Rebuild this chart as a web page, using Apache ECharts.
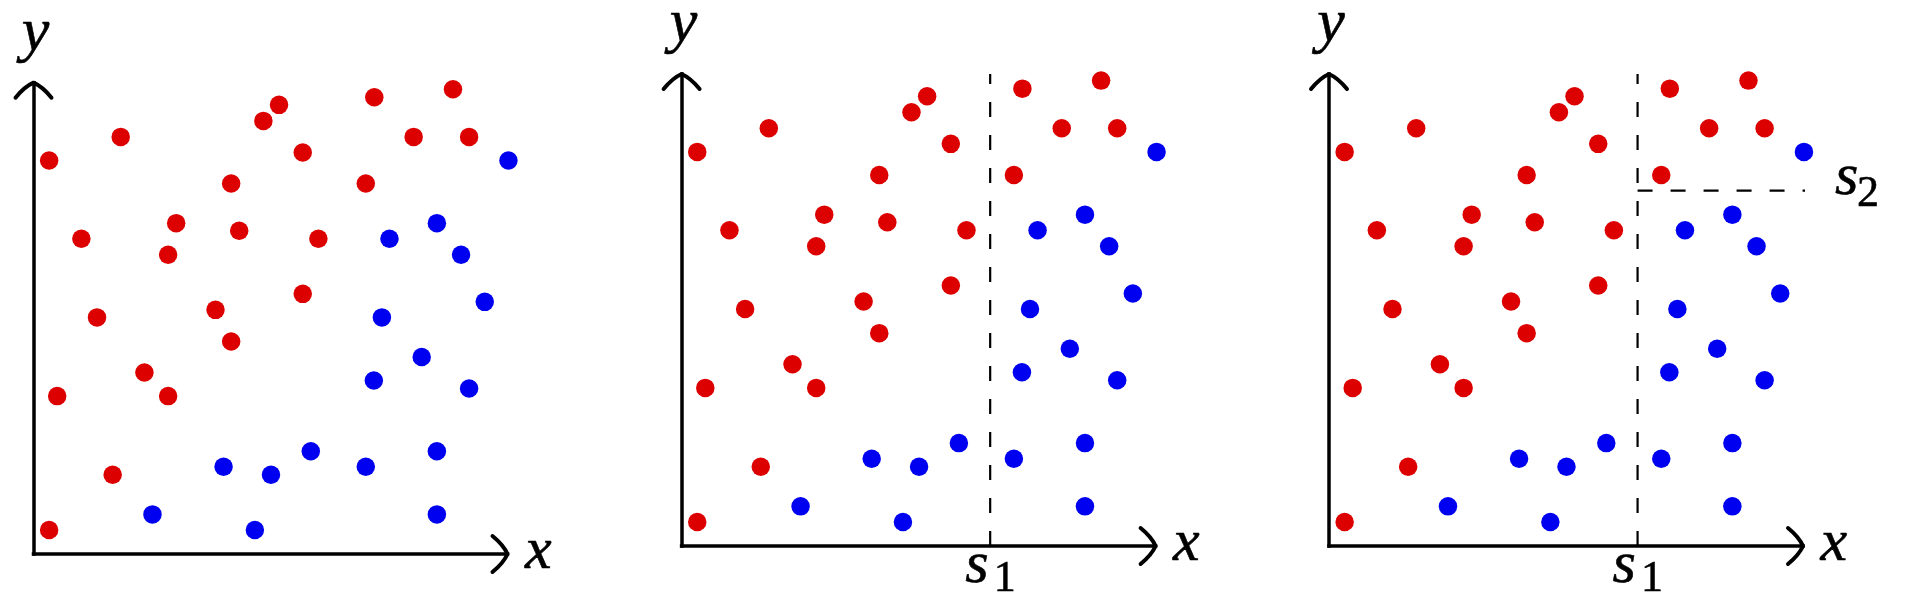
<!DOCTYPE html>
<html><head><meta charset="utf-8">
<script src="https://cdn.jsdelivr.net/npm/echarts@6/dist/echarts.min.js"></script>
<style>html,body{margin:0;padding:0;background:#fff}#c{width:1927px;height:612px}</style>
</head><body><div id="c"></div>
<script>
// ---- data (unitless feature space, 0..100 on both axes) ----
const redX  = [3.3, 18.4, 51.8, 48.5, 71.9, 88.5, 80.2, 91.9, 56.8, 41.7, 70.1, 30.1, 10.1, 43.4, 60.1, 28.4, 56.8, 13.4, 38.4, 41.7, 23.4, 5.0, 28.4, 16.7, 3.3];
const redY  = [83.5, 88.5, 95.3, 91.9, 96.9, 98.6, 88.5, 88.5, 85.2, 78.6, 78.6, 70.2, 66.9, 68.6, 66.9, 63.5, 55.2, 50.2, 51.8, 45.1, 38.5, 33.5, 33.5, 16.8, 5.1];
const blueX = [100.2, 85.1, 75.1, 90.2, 95.2, 73.5, 81.9, 71.8, 91.9, 58.5, 40.1, 50.1, 70.1, 85.1, 25.1, 46.7, 85.1];
const blueY = [83.5, 70.2, 66.9, 63.5, 53.5, 50.2, 41.8, 36.8, 35.1, 21.8, 18.5, 16.8, 18.5, 21.8, 8.4, 5.1, 8.4];
const X_MAX = 100, Y_MAX = 100;
const S1 = 65.1;          // first split (x)
const S2 = 75.3;          // second split (y), right of S1
const S2_END = 103.8;     // where the s2 guide ends
const axisNames = ['x', 'y'];
const splitNames = [['s', '1'], ['s', '2']];

const RED = '#dd0000', BLUE = '#0000f0';
const FONT = 'Liberation Serif';
const redPts = redX.map((v, i) => [v, redY[i]]);
const bluePts = blueX.map((v, i) => [v, blueY[i]]);

const grids = [
  {left: 33.5, top: 82.7, width: 474, height: 471.3},
  {left: 681.6, top: 74, width: 474, height: 472},
  {left: 1329, top: 74, width: 474, height: 472}
];

const axisLineStyle = {show: true, onZero: false, lineStyle: {color: '#000', width: 3.5, cap: 'square'}};
const xAxes = grids.map((g, i) => ({gridIndex: i, type: 'value', min: 0, max: X_MAX,
  axisLine: axisLineStyle, axisTick: {show: false}, axisLabel: {show: false}, splitLine: {show: false}}));
const yAxes = grids.map((g, i) => ({gridIndex: i, type: 'value', min: 0, max: Y_MAX,
  axisLine: axisLineStyle, axisTick: {show: false}, axisLabel: {show: false}, splitLine: {show: false}}));

function arrow(tip, dir) {
  const L = 15, W = 18, cb = 4, cw = 9;
  const tx = tip[0], ty = tip[1];
  let p;
  if (dir === 'x') {
    p = `M${tx - L} ${ty - W} Q${tx - cb} ${ty - cw} ${tx} ${ty} Q${tx - cb} ${ty + cw} ${tx - L} ${ty + W}`;
  } else {
    p = `M${tx - W} ${ty + L} Q${tx - cw} ${ty + cb} ${tx} ${ty} Q${tx + cw} ${ty + cb} ${tx + W} ${ty + L}`;
  }
  return {type: 'path', shape: {pathData: p},
    style: {fill: null, stroke: '#000', lineWidth: 4, lineCap: 'round', lineJoin: 'round'}};
}
function txt(x, y, s, size, italic) {
  return {type: 'text', x: x, y: y, style: {text: s, fontFamily: FONT, fontStyle: italic ? 'italic' : 'normal',
    fontSize: size, fill: '#000', stroke: '#000', lineWidth: 0.6, align: 'left', verticalAlign: 'middle'}};
}

function decor(panel) {
  return function (params, api) {
    const o = api.coord([0, 0]);
    const xt = api.coord([X_MAX, 0]);
    const yt = api.coord([0, Y_MAX]);
    const ch = [arrow(xt, 'x'), arrow(yt, 'y'),
      txt(xt[0] + 17.5, o[1] - 2, axisNames[0], 60, true)];
    const yl = txt(yt[0] + 2, yt[1] - 49, axisNames[1], 62, true);
    yl.style.align = 'center';
    ch.push(yl);
    if (panel >= 1) {
      const p = api.coord([S1, 0]);
      ch.push(txt(p[0] - 25, p[1] + 20, splitNames[0][0], 60, true));
      ch.push(txt(p[0] + 3.5, p[1] + 33, splitNames[0][1], 44, false));
    }
    if (panel >= 2) {
      const q = api.coord([S2_END, S2]);
      ch.push(txt(q[0] + 14, q[1] - 12.5, splitNames[1][0], 60, true));
      ch.push(txt(q[0] + 36, q[1] + 3.7, splitNames[1][1], 44, false));
    }
    return {type: 'group', children: ch};
  };
}

const dash = {color: '#000', width: 2.2, type: [15, 18], opacity: 1};
const series = [];
grids.forEach((g, i) => {
  if (i >= 1) series.push({type: 'line', xAxisIndex: i, yAxisIndex: i, data: [[S1, 0], [S1, Y_MAX]],
    symbol: 'none', lineStyle: dash, silent: true, z: 1});
  if (i >= 2) series.push({type: 'line', xAxisIndex: i, yAxisIndex: i, data: [[S1, S2], [S2_END, S2]],
    symbol: 'none', lineStyle: dash, silent: true, z: 1});
  series.push({type: 'scatter', xAxisIndex: i, yAxisIndex: i, data: redPts, symbolSize: 18.5,
    itemStyle: {color: RED, opacity: 1}, clip: false, z: 3});
  series.push({type: 'scatter', xAxisIndex: i, yAxisIndex: i, data: bluePts, symbolSize: 18.5,
    itemStyle: {color: BLUE, opacity: 1}, clip: false, z: 3});
  series.push({type: 'custom', xAxisIndex: i, yAxisIndex: i, data: [[0, 0]], renderItem: decor(i),
    silent: true, clip: false, z: 4});
});

const chart = echarts.init(document.getElementById('c'), null, {renderer: 'canvas'});
chart.setOption({animation: false, backgroundColor: '#fff', grid: grids, xAxis: xAxes, yAxis: yAxes, series: series});
</script></body></html>
